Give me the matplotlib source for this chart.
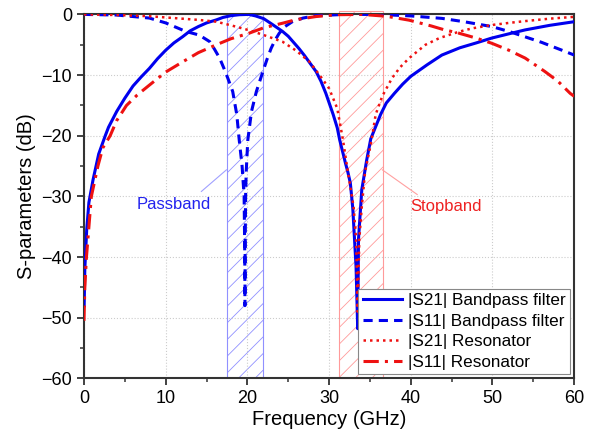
import matplotlib
matplotlib.use("Agg")
import matplotlib.pyplot as plt
from matplotlib.patches import Rectangle
from matplotlib.ticker import MultipleLocator

plt.rcParams['font.family'] = ['Liberation Sans', 'DejaVu Sans']
plt.rcParams['hatch.linewidth'] = 0.6

# values (GHz, dB)
f_s21_bpf = [0.02, 0.1, 0.33, 0.6, 1.1, 1.8, 2.6, 3, 4, 5, 6, 7, 8, 9, 10, 11, 12.1, 13, 14,
             15, 16.2, 17, 18, 19, 20.2, 21, 22, 23, 24.3, 25, 26.3, 27, 28.4, 29, 29.6, 30.5,
             31, 31.3, 32, 32.3, 32.6, 32.9, 33.0, 33.3, 33.5, 33.6, 34.0, 34.6, 35.1, 36.3,
             37, 38, 39, 40, 42, 43.8, 46, 48, 49.9, 52, 54, 57, 60]
s21_bpf = [-48, -42, -35.5, -31, -27.3, -23, -20, -18.6, -16, -13.8, -11.8, -10.3, -8.9, -7.3,
           -5.9, -4.7, -3.65, -2.7, -2, -1.4, -0.9, -0.5, -0.2, -0.05, 0, -0.25, -0.7, -1.6,
           -2.8, -3.6, -5.6, -6.8, -9.4, -11, -13, -16.5, -18.7, -20.7, -24.5, -26, -27.8,
           -32, -34.4, -41.6, -51.8, -37, -28.9, -24, -20.5, -16.5, -14.6, -13, -11.5, -10.2,
           -8.3, -6.7, -5.5, -4.7, -3.9, -3.2, -2.55, -1.8, -1.2]

f_s11_bpf = [0, 4, 8, 10, 12.1, 13, 14.1, 15.4, 16, 16.6, 17.1, 17.6, 18.2, 18.7, 19.0, 19.35,
             19.6, 19.68, 19.7, 19.72, 19.78, 19.85, 20.05, 20.5, 21.1, 21.9, 22.4, 22.9, 23.4,
             23.9, 24.6, 25.5, 26.8, 28.4, 32, 35, 37.7, 40, 43.8, 46.5, 49.9, 52, 54, 56,
             58.5, 60]
s11_bpf = [0, -0.1, -0.6, -1.4, -2.6, -3.0, -3.4, -4.5, -5.8, -7.2, -8.8, -10.5, -12.7, -16.5,
           -20.7, -25, -30, -40, -48, -40, -30, -26, -20.7, -16, -12.7, -9.4, -7.4, -5.6, -4.2,
           -3.1, -2.0, -1.2, -0.6, -0.2, 0, 0, -0.1, -0.25, -0.65, -1.2, -2.0, -2.8, -3.7,
           -4.6, -5.9, -6.7]

f_s21_res = [0, 4, 8, 12, 14, 16.2, 18, 20.2, 22, 24.3, 26, 27.6, 29, 30, 31, 31.7, 32.3,
             33.0, 33.3, 33.5, 33.7, 34.0, 34.4, 35.2, 35.7, 36.5, 37.7, 38.7, 39.8, 41.8,
             43.5, 45.9, 47.5, 49.9, 52, 54, 57, 60]
s21_res = [0, -0.1, -0.3, -0.7, -0.9, -1.2, -1.8, -2.6, -3.4, -4.5, -6, -7.8, -10.3, -12.2,
           -15.5, -20.7, -26, -31.7, -37, -49, -37, -31.7, -26, -20.7, -16.5, -13.5, -10.5,
           -8.7, -7.2, -5, -3.9, -2.85, -2.3, -1.75, -1.4, -1.1, -0.7, -0.4]

f_s11_res = [0, 0.1, 0.3, 0.6, 0.9, 1.7, 2.3, 3.2, 4, 5.2, 6.5, 8.05, 10, 12.1, 14, 16.2, 18,
             20.2, 22, 24.3, 26, 28.4, 31, 34, 37, 39.8, 42.5, 44, 45.9, 48, 49.9, 52, 54,
             56.4, 58, 59.5, 60]
s11_res = [-50.5, -45, -40, -35, -30, -25, -22, -20, -17.5, -15, -13.3, -11.6, -9.5, -7.8,
           -6.3, -5.0, -4.0, -3.1, -2.2, -1.45, -0.85, -0.35, -0.05, 0, -0.3, -0.95, -1.9,
           -2.5, -3.1, -3.9, -4.75, -5.9, -7.2, -9.4, -11, -13, -13.5]

passband = (17.5, 21.9)
stopband = (31.2, 36.6)

fig = plt.figure(figsize=(6, 4.37), dpi=100)
ax = fig.add_axes([0.14, 0.134, 0.817, 0.833])

# shaded bands
ax.add_patch(Rectangle((passband[0], -60), passband[1] - passband[0], 60,
                       facecolor='none', edgecolor='#9090ff', hatch='//', lw=0.8, zorder=1))
ax.add_patch(Rectangle((stopband[0], -60), stopband[1] - stopband[0], 60.5,
                       facecolor='none', edgecolor='#ff9a9a', hatch='//', lw=0.8,
                       clip_on=False, zorder=1))

ax.plot(f_s21_bpf, s21_bpf, color='#0000ee', lw=2.2, ls='-', label='|S21| Bandpass filter', zorder=3)
ax.plot(f_s11_bpf, s11_bpf, color='#0000ee', lw=2.2, ls=(0, (3, 2)), label='|S11| Bandpass filter', zorder=3)
ax.plot(f_s21_res, s21_res, color='#ee1111', lw=1.8, ls=(0, (1, 1.6)), label='|S21| Resonator', zorder=3)
ax.plot(f_s11_res, s11_res, color='#ee1111', lw=2.2, ls=(0, (5, 2, 1, 2)), label='|S11| Resonator', zorder=3)

# band labels with thin leader lines
ax.text(11.0, -31.4, 'Passband', color='#2222ee', fontsize=12, ha='center', va='center')
ax.annotate('', xy=(17.45, -25.6), xytext=(14.35, -29.2),
            arrowprops=dict(arrowstyle='-', color='#a0a0ff', lw=0.8, shrinkA=0, shrinkB=0))
ax.text(44.3, -31.7, 'Stopband', color='#ee2222', fontsize=12, ha='center', va='center')
ax.annotate('', xy=(36.5, -25.6), xytext=(40.8, -29.7),
            arrowprops=dict(arrowstyle='-', color='#ffa0a0', lw=0.8, shrinkA=0, shrinkB=0))

ax.set_xlim(0, 60)
ax.set_ylim(-60, 0)
ax.xaxis.set_major_locator(MultipleLocator(10))
ax.xaxis.set_minor_locator(MultipleLocator(5))
ax.yaxis.set_major_locator(MultipleLocator(10))
ax.yaxis.set_minor_locator(MultipleLocator(5))
ax.tick_params(which='major', direction='out', length=5, width=1.3, labelsize=13, colors='#333333')
ax.tick_params(which='minor', direction='out', length=3, width=1.1, colors='#333333')
ax.tick_params(labelcolor='black')
ax.grid(True, which='major', color='#cccccc', ls=':', lw=0.8)
for sp in ax.spines.values():
    sp.set_color('#333333')
    sp.set_linewidth(1.5)

ax.set_xlabel('Frequency (GHz)', fontsize=14.5, labelpad=2)
ax.set_ylabel('S-parameters (dB)', fontsize=14.5, labelpad=4)

leg = ax.legend(loc='lower right', fontsize=12.3, frameon=True, fancybox=False,
                edgecolor='#888888', framealpha=1, handlelength=2.3, handletextpad=0.35,
                labelspacing=0.33, borderpad=0.25, borderaxespad=0.25)
leg.get_frame().set_linewidth(0.8)

fig.savefig('out.png', dpi=100)
